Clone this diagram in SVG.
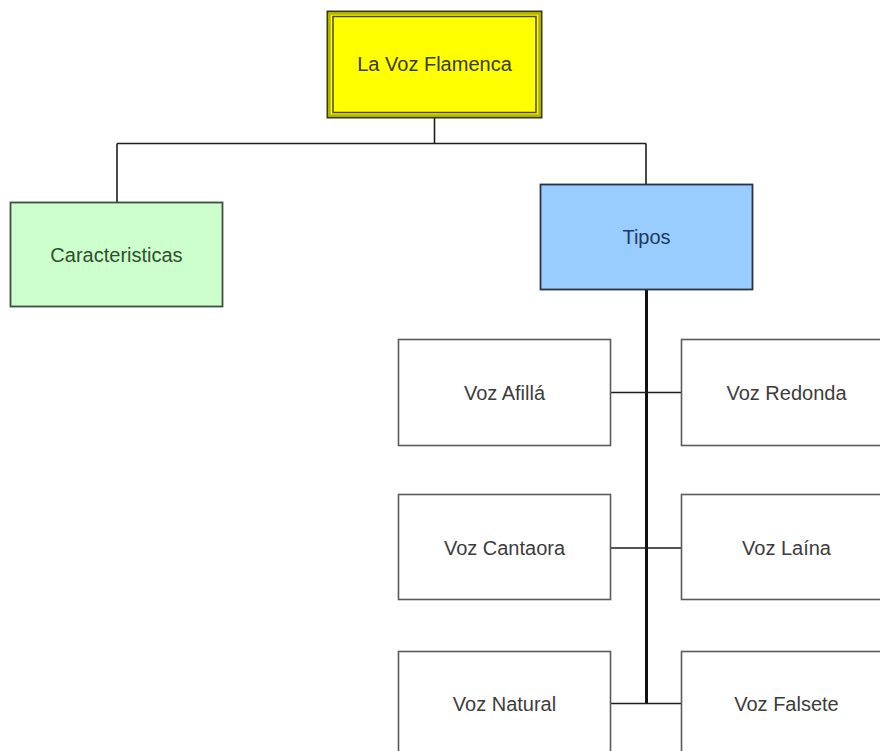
<svg xmlns="http://www.w3.org/2000/svg" width="880" height="751" viewBox="0 0 880 751">
<style>
text{font-family:"Liberation Sans",Arial,sans-serif;font-size:20px;text-anchor:middle}
.box{fill:#ffffff;stroke:#5a5a5a;stroke-width:1.6}
.t{fill:#3c3c3c}
.conn{fill:none;stroke:#1e1e1e;stroke-width:1.6}
.thick{fill:none;stroke:#111;stroke-width:3}
</style>
<rect width="880" height="751" fill="#ffffff"/>
<g id="connectors">
<path class="conn" d="M434.5 118V143.5M117 143.5H646M117 143.5V202M646 143.5V184"/>
<path class="thick" d="M646.5 290V703.5"/>
<path class="conn" d="M611 392.5H681M611 548H681M611 703.5H681"/>
</g>
<g id="root">
<rect x="327.5" y="11.5" width="214" height="106" fill="#ffff00" stroke="#3a3a10" stroke-width="2"/>
<rect x="333" y="16.5" width="203" height="96" fill="none" stroke="#4a4a18" stroke-width="1.5"/>
<rect x="329.5" y="13.5" width="210" height="102" fill="none" stroke="#b5b500" stroke-width="2.5"/>
<text x="434.5" y="71" fill="#3a3a10">La Voz Flamenca</text>
</g>
<g id="caracteristicas">
<rect x="10.5" y="202.5" width="212" height="104" fill="#ccffcc" stroke="#3f4f3f" stroke-width="1.8"/>
<text x="116.5" y="261.5" fill="#2f4f2f">Caracteristicas</text>
</g>
<g id="tipos">
<rect x="540.5" y="184.5" width="212" height="105" fill="#99ccff" stroke="#2a3340" stroke-width="1.8"/>
<text x="646.5" y="244" fill="#1f3a5c">Tipos</text>
</g>
<g id="voz-afilla">
<rect class="box" x="398.5" y="339.5" width="212" height="106"/>
<text class="t" x="504.5" y="399.5">Voz Afillá</text>
</g>
<g id="voz-redonda">
<rect class="box" x="681.5" y="339.5" width="212" height="106"/>
<text class="t" x="786.5" y="399.5">Voz Redonda</text>
</g>
<g id="voz-cantaora">
<rect class="box" x="398.5" y="494.5" width="212" height="105"/>
<text class="t" x="504.5" y="554.5">Voz Cantaora</text>
</g>
<g id="voz-laina">
<rect class="box" x="681.5" y="494.5" width="212" height="105"/>
<text class="t" x="786.5" y="554.5">Voz Laína</text>
</g>
<g id="voz-natural">
<rect class="box" x="398.5" y="651.5" width="212" height="106"/>
<text class="t" x="504.5" y="710.5">Voz Natural</text>
</g>
<g id="voz-falsete">
<rect class="box" x="681.5" y="651.5" width="212" height="106"/>
<text class="t" x="786.5" y="710.5">Voz Falsete</text>
</g>
</svg>
